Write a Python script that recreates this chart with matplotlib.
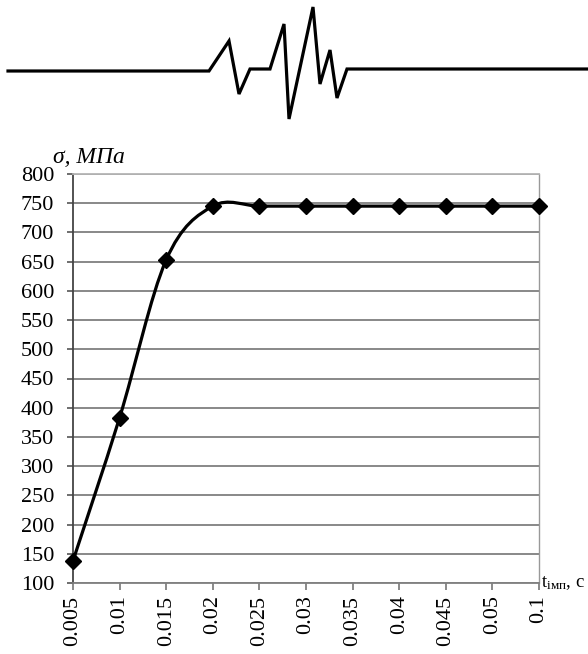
import matplotlib
matplotlib.use('Agg')
import matplotlib.pyplot as plt
from matplotlib.path import Path
from matplotlib.patches import PathPatch

# --- données ---
t_labels = ['0.005', '0.01', '0.015', '0.02', '0.025', '0.03',
            '0.035', '0.04', '0.045', '0.05', '0.1']
sigma = [138, 383, 653, 745, 745, 745, 745, 745, 745, 745, 745]
y_ticks = list(range(100, 801, 50))

# décor (impulsion) en haut, en pixels de la figure
wave_x = [8, 209, 229, 239, 250, 270, 284, 289, 313, 320, 330, 337, 347, 588]
wave_y = [71, 71, 41, 94, 69, 69, 24, 119, 7, 84, 50, 98, 69, 69]

plt.rcParams['font.family'] = ['Liberation Serif', 'DejaVu Serif']
plt.rcParams['mathtext.fontset'] = 'custom'
plt.rcParams['mathtext.rm'] = 'Liberation Serif'
plt.rcParams['mathtext.it'] = 'Liberation Serif:italic'

W, H = 588, 654
fig = plt.figure(figsize=(W / 100, H / 100), dpi=100)

# --- impulsion ---
deco = fig.add_axes([0, 0, 1, 1], zorder=0)
deco.set_xlim(0, W)
deco.set_ylim(H, 0)
deco.axis('off')
deco.plot(wave_x, wave_y, color='black', linewidth=2.3, solid_joinstyle='miter')

# --- graphique ---
ax = fig.add_axes([73 / W, 1 - 583 / H, (539 - 73) / W, (583 - 174) / H], zorder=1)
ax.patch.set_alpha(0)
x = list(range(len(sigma)))

# courbe lissée (Bezier façon Excel)
verts = [(x[0], sigma[0])]
codes = [Path.MOVETO]
n = len(x)
for i in range(n - 1):
    p0 = (x[max(i - 1, 0)], sigma[max(i - 1, 0)])
    p1 = (x[i], sigma[i])
    p2 = (x[i + 1], sigma[i + 1])
    p3 = (x[min(i + 2, n - 1)], sigma[min(i + 2, n - 1)])
    c1 = (p1[0] + (p2[0] - p0[0]) / 6, p1[1] + (p2[1] - p0[1]) / 6)
    c2 = (p2[0] - (p3[0] - p1[0]) / 6, p2[1] - (p3[1] - p1[1]) / 6)
    verts += [c1, c2, p2]
    codes += [Path.CURVE4] * 3
ax.add_patch(PathPatch(Path(verts, codes), facecolor='none', edgecolor='black',
                       linewidth=2.3, zorder=3, clip_on=False))
ax.plot(x, sigma, linestyle='none', marker='D', markersize=8,
        color='black', zorder=4, clip_on=False)

ax.set_xlim(0, n - 1)
ax.set_ylim(100, 800)
ax.set_yticks(y_ticks)
ax.set_xticks(x)
ax.set_xticklabels(t_labels, rotation=90, fontsize=16)
ax.tick_params(axis='y', labelsize=16, length=4.5, width=1.2, color='#555555', pad=9)
ax.tick_params(axis='x', length=5, width=1.2, color='#777777', pad=4)
ax.grid(axis='y', color='#7f7f7f', linewidth=1.3)
ax.set_axisbelow(True)

ax.spines['left'].set_color('#444444')
ax.spines['left'].set_linewidth(1.3)
ax.spines['bottom'].set_color('#808080')
ax.spines['bottom'].set_linewidth(1.3)
ax.spines['top'].set_color('#b5b5b5')
ax.spines['top'].set_linewidth(1.3)
ax.spines['right'].set_color('#999999')
ax.spines['right'].set_linewidth(1.0)

ax.text(-0.043, 1.027, 'σ, МПа', transform=ax.transAxes, fontsize=17,
        fontstyle='italic', ha='left', va='baseline')
ax.text(1.004, 0.0, r't$_{\mathrm{імп}}$, с', transform=ax.transAxes,
        fontsize=13.5, ha='left', va='center')

fig.savefig('out.png', dpi=100)
